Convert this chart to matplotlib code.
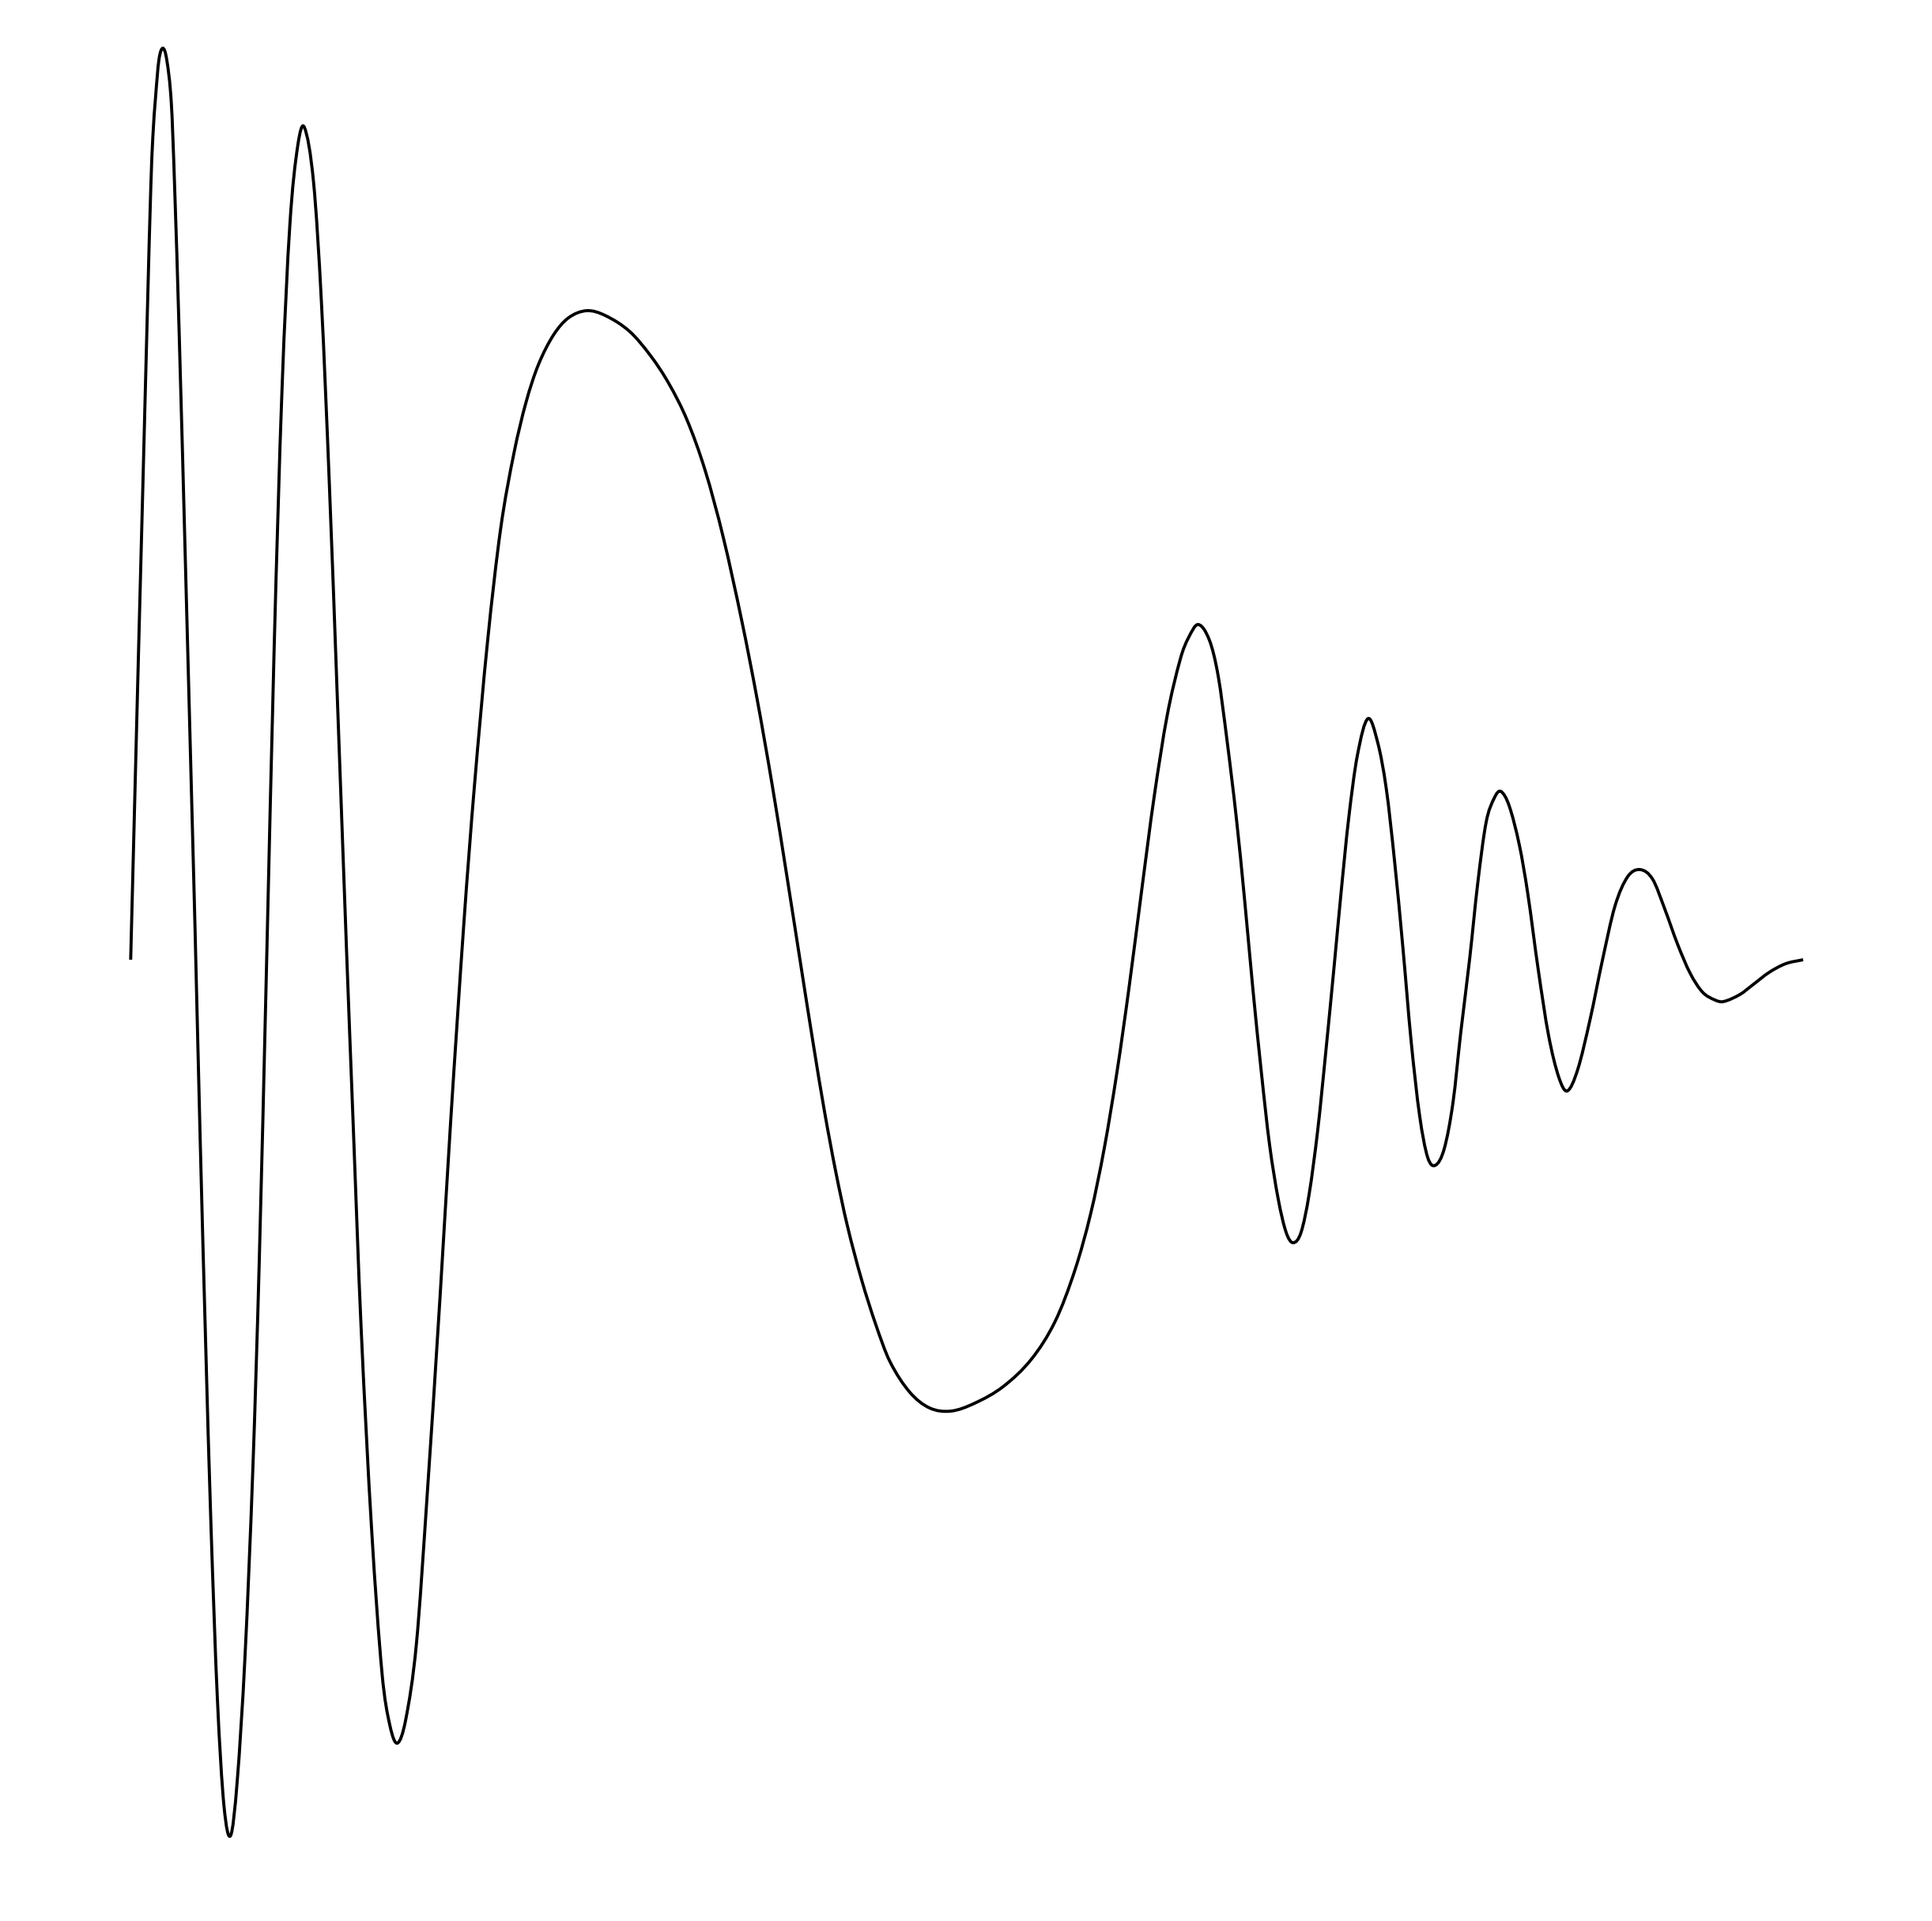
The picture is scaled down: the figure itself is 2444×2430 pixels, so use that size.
import matplotlib
matplotlib.use("Agg")
import matplotlib.pyplot as plt
import numpy as np
from matplotlib.path import Path
from matplotlib.patches import PathPatch

# Signal samples (x position, signal value; up is positive)
t = [165.3, 175, 181, 186.7, 190.7, 193.3, 196.7, 201, 206, 211, 216.7, 220.7,
     226.7, 235, 243.3, 246.7, 253.3, 260, 266.7, 275, 283.3, 291.7,
     300, 310, 320, 328, 337, 346.7, 356.7, 366.7, 376.7, 385,
     396.7, 406.7, 416.7, 426.7, 438.3, 446.7, 456.7, 470, 483.3, 493.3, 502.7,
     513.3, 526.7, 540, 556.7, 570, 587, 600, 616.7, 633.3, 650, 665.4, 680.8,
     700, 719.2, 742.3,
     765.4, 796.2, 823, 846, 869, 892, 915, 938.5, 957.7, 977, 996, 1014,
     1028.7, 1043, 1057.4, 1071.8, 1089.7, 1107.7, 1125.6, 1150.8, 1175.9, 1202.8,
     1233, 1269, 1305, 1335, 1360, 1380, 1397, 1413, 1428, 1444, 1460, 1476.7,
     1493.3, 1503.3, 1515.7,
     1530, 1541, 1552, 1564, 1574.7, 1585, 1595.8, 1606, 1617, 1627, 1635.8,
     1645.8, 1656, 1667, 1677, 1688, 1696, 1706, 1717, 1730.5,
     1743, 1753.7, 1764, 1774.7, 1785, 1795.8, 1806, 1815.8,
     1827, 1838, 1848, 1859, 1869.5, 1880, 1890.5, 1898.4,
     1909, 1922, 1932.6, 1945.8, 1959, 1972, 1982.6,
     1995.8, 2011.6, 2027, 2043, 2059, 2074.7,
     2090.5, 2106, 2122, 2138, 2153.7, 2169.5, 2180,
     2201, 2217, 2238, 2259, 2281]
signal = [0, 380, 610, 830, 975, 1040, 1090, 1138, 1153, 1138, 1084, 984,
          791, 485, 170, 40, -230, -480, -710, -935, -1070, -1108,
          -1040, -880, -640, -380, -15, 390, 720, 930, 1030, 1053,
          983, 830, 600, 332, 14, -206, -463, -719, -903, -969, -991,
          -961, -866, -683, -426, -206, 49, 218, 402, 545, 640, 705, 752,
          790, 812, 821,
          815, 795, 764, 729, 683, 619, 534, 428, 330, 220, 102, -13,
          -106, -192, -269, -336, -404, -461, -508, -547, -567, -571,
          -561, -540, -505, -457, -392, -320, -238, -142, -37, 86, 206, 310,
          381, 407, 424,
          404, 359, 279, 179, 73, -38, -144, -234, -303, -345, -358,
          -345, -297, -215, -118, -5, 80, 178, 258, 305,
          274, 216, 126, 15, -102, -197, -250, -260,
          -239, -181, -91, 0, 98, 174, 205, 213,
          195, 145, 84, -12, -96, -149, -166,
          -139, -75, -1, 68, 105, 114,
          102, 64, 20, -17, -41, -51, -53,
          -44, -32, -16, -5, 0]


def smooth_path(xs, ys):
    """Cubic Hermite (Catmull-Rom style) curve through the sample points."""
    x = np.asarray(xs, float)
    y = np.asarray(ys, float)
    n = len(x)
    h = np.diff(x)
    m = np.zeros(n)
    m[1:-1] = (y[2:] - y[:-2]) / (x[2:] - x[:-2])
    m[0] = (y[1] - y[0]) / h[0]
    m[-1] = (y[-1] - y[-2]) / h[-1]
    verts = [(x[0], y[0])]
    codes = [Path.MOVETO]
    for i in range(n - 1):
        d = h[i] / 3
        verts += [(x[i] + d, y[i] + m[i] * d),
                  (x[i + 1] - d, y[i + 1] - m[i + 1] * d),
                  (x[i + 1], y[i + 1])]
        codes += [Path.CURVE4] * 3
    return Path(verts, codes)


fig = plt.figure(figsize=(24.44, 24.30), dpi=100)
ax = fig.add_axes([0, 0, 1, 1])
patch = PathPatch(smooth_path(t, signal), facecolor="none", edgecolor="black",
                  linewidth=2.8, capstyle="butt", joinstyle="round")
ax.add_patch(patch)
ax.set_xlim(0, 2444)
ax.set_ylim(-1216, 1214)
ax.axis("off")
fig.savefig("out.png", dpi=100, facecolor="white")
